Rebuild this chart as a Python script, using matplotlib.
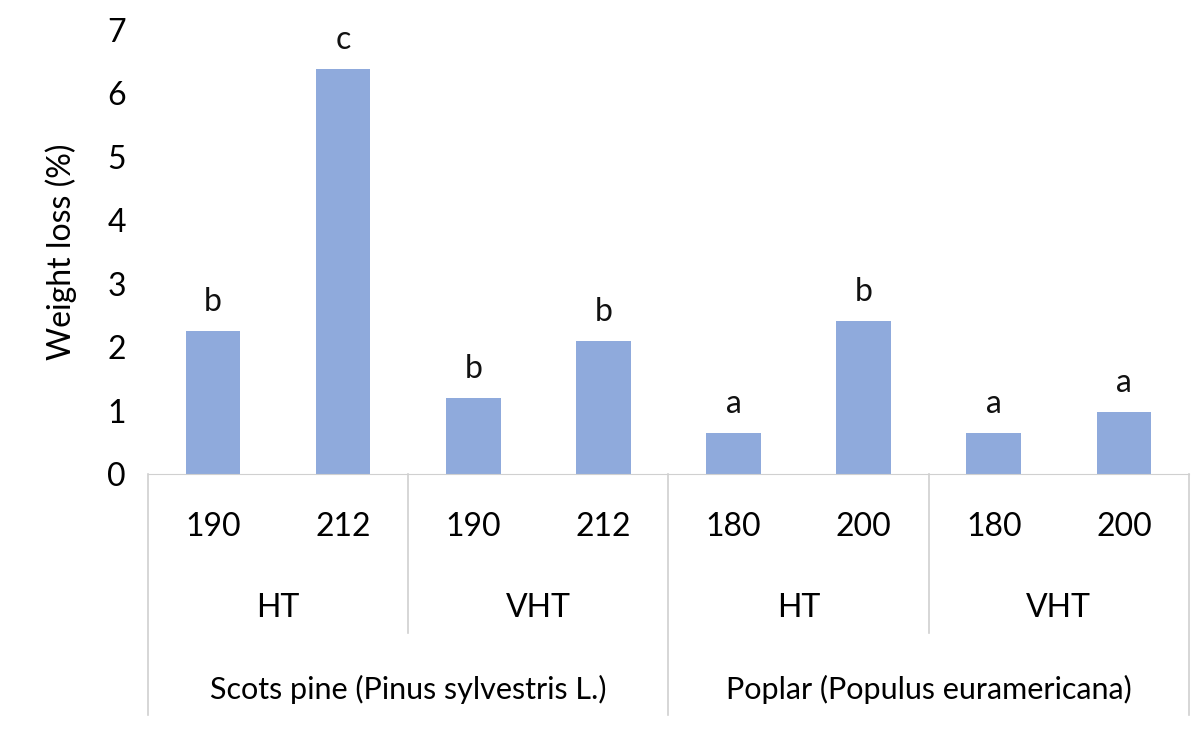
import matplotlib.pyplot as plt
from matplotlib.transforms import blended_transform_factory

temps = ['190', '212', '190', '212', '180', '200', '180', '200']
treat = ['HT', 'VHT', 'HT', 'VHT']
species = ['Scots pine (Pinus sylvestris L.)', 'Poplar (Populus euramericana)']
loss = [2.25, 6.38, 1.2, 2.1, 0.65, 2.42, 0.65, 0.98]
letters = ['b', 'c', 'b', 'b', 'a', 'b', 'a', 'a']

plt.rcParams['font.family'] = ['Lato', 'DejaVu Sans']
fig = plt.figure(figsize=(12, 7.29), dpi=100)
ax = fig.add_axes([0.1233, 0.3498, 0.8675, 0.609])
x = list(range(len(loss)))
ax.bar(x, loss, width=0.42, color='#8faadc')
for xi, v, l in zip(x, loss, letters):
    ax.text(xi, v + 0.22, l, ha='center', va='bottom', fontsize=23, color='#111111')
ax.set_xlim(-0.5, 7.5)
ax.set_ylim(0, 7)
ax.set_yticks(range(8))
ax.tick_params(axis='y', labelsize=23, length=0, pad=16)
ax.set_xticks([])
for s in ['top', 'right', 'left']:
    ax.spines[s].set_visible(False)
ax.spines['bottom'].set_color('#d0d0d0')
ax.set_ylabel('Weight loss (%)', fontsize=23, labelpad=22)

tr = blended_transform_factory(ax.transData, ax.transAxes)
gray = '#d0d0d0'
for xb in [-0.5, 3.5, 7.5]:
    ax.plot([xb, xb], [0, -0.543], transform=tr, clip_on=False, color=gray, lw=1.2)
for xb in [1.5, 5.5]:
    ax.plot([xb, xb], [0, -0.358], transform=tr, clip_on=False, color=gray, lw=1.2)
for xi, t in zip(x, temps):
    ax.text(xi, -0.119, t, transform=tr, ha='center', va='center', fontsize=23)
for i, t in enumerate(treat):
    ax.text(2 * i + 0.5, -0.302, t, transform=tr, ha='center', va='center', fontsize=23)
for i, t in enumerate(species):
    ax.text(4 * i + 1.5, -0.486, t, transform=tr, ha='center', va='center', fontsize=22)

fig.savefig('out.png', dpi=100)
